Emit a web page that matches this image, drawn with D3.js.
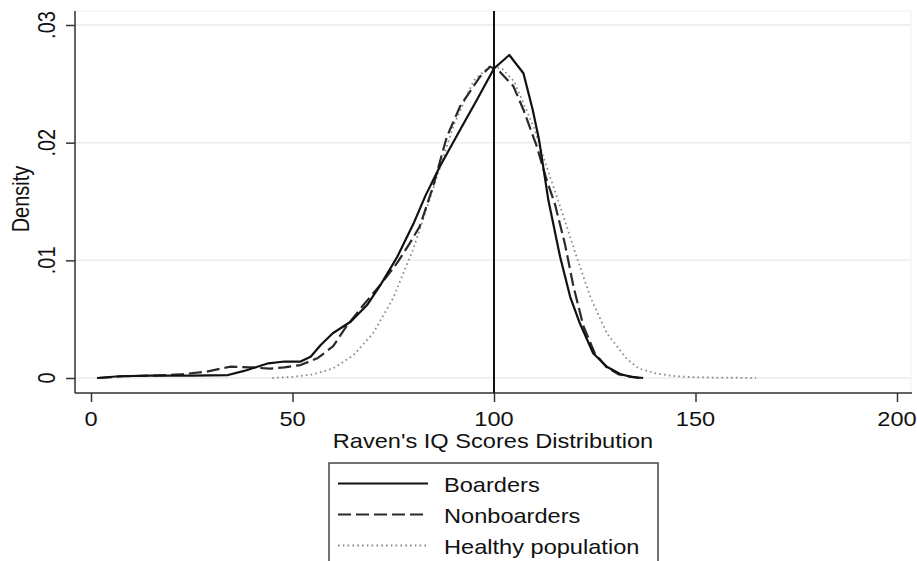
<!DOCTYPE html>
<html>
<head>
<meta charset="utf-8">
<script src="https://cdn.jsdelivr.net/npm/d3@7"></script>
<style>
  html, body { margin: 0; padding: 0; background: #fff; }
  svg { display: block; }
  text { font-family: "Liberation Sans", Arial, sans-serif; fill: #111; }
</style>
</head>
<body>
<svg id="chart" width="917" height="561"></svg>
<script>
// ---- data ----
const xTicks = [0, 50, 100, 150, 200];
const yTicks = [0, 0.01, 0.02, 0.03];
const yTickLabels = ["0", ".01", ".02", ".03"];
const xTitle = "Raven's IQ Scores Distribution";
const yTitle = "Density";
const seriesNames = ["Boarders", "Nonboarders", "Healthy population"];
const refLine = 100;

const boardersX = [1.5, 7, 15, 25, 34, 38, 44, 48, 52, 54.5, 57, 60, 64.5, 68.5, 72, 76, 80, 83, 86.6, 91.6, 95.7, 100, 103.8, 107.3, 109.6, 111.2, 113.5, 116.4, 118.9, 121.3, 124.6, 128, 131.3, 134, 137];
const boardersY = [0.0000, 0.00015, 0.0002, 0.0002, 0.00025, 0.0006, 0.00125, 0.0014, 0.0014, 0.0018, 0.0028, 0.0038, 0.0048, 0.0062, 0.0080, 0.0103, 0.0131, 0.0155, 0.0180, 0.0211, 0.0236, 0.0263, 0.02745, 0.0259, 0.0228, 0.0202, 0.0151, 0.0103, 0.0069, 0.00465, 0.0021, 0.00096, 0.00034, 0.0001, 0.0000];

const nonboardersX = [2, 8, 15, 22, 28.7, 34.5, 39.5, 44.4, 48, 52, 56.3, 60.1, 63.4, 67.6, 72, 76, 79, 81.6, 84.9, 88.3, 91.6, 96.5, 99, 101.5, 104.8, 107.3, 110.6, 113.1, 115.1, 117.6, 119.7, 122.2, 125, 128, 131, 136];
const nonboardersY = [0.0000, 0.00015, 0.0002, 0.0003, 0.00054, 0.00096, 0.0009, 0.0008, 0.0009, 0.0011, 0.0017, 0.0027, 0.0044, 0.0062, 0.0080, 0.0098, 0.0114, 0.0129, 0.0163, 0.0205, 0.0231, 0.0256, 0.02646, 0.0260, 0.0248, 0.0228, 0.0197, 0.0168, 0.0148, 0.0114, 0.0078, 0.0044, 0.0021, 0.0009, 0.0003, 0.0000];

const healthyX = [45, 50, 55, 60, 65, 70, 75, 80, 85, 90, 95, 99, 102, 105, 110, 113, 116.7, 120.5, 124, 128, 133, 136, 140, 145, 150, 155, 165];
const healthyY = [0.0000, 0.0001, 0.0003, 0.0008, 0.0019, 0.0038, 0.0068, 0.0110, 0.0162, 0.0215, 0.0253, 0.0265, 0.0263, 0.0252, 0.0212, 0.0180, 0.0143, 0.0103, 0.0068, 0.0038, 0.0016, 0.0008, 0.0004, 0.00015, 0.00006, 0.00003, 0.00001];

// ---- layout ----
const svg = d3.select("#chart");
const SX = 1.18; // horizontal stretch of the original picture's text
const pL = 75, pB = 393, pT = 11, pR = 911;
const x = d3.scaleLinear().domain([0, 200]).range([91, 897]);
const y = d3.scaleLinear().domain([0, 0.03]).range([378, 25]);

svg.append("rect").attr("width", 917).attr("height", 561).attr("fill", "#fff");

// faint plot region border
svg.append("rect").attr("x", pL).attr("y", pT).attr("width", pR - pL).attr("height", pB - pT)
  .attr("fill", "none").attr("stroke", "#eef3f3").attr("stroke-width", 1.2);

// gridlines
svg.append("g").selectAll("line").data(yTicks).join("line")
  .attr("x1", pL).attr("x2", pR)
  .attr("y1", d => y(d)).attr("y2", d => y(d))
  .attr("stroke", "#e6eeee").attr("stroke-width", 1.5);

// axes
const xAxis = d3.axisBottom(x).tickValues(xTicks).tickSize(9).tickFormat(() => "");
const gx = svg.append("g").attr("transform", `translate(0,${pB})`).call(xAxis);
gx.select(".domain").remove();
gx.selectAll(".tick line").attr("stroke", "#333").attr("stroke-width", 1.5);
svg.append("line").attr("x1", pL).attr("x2", pR + 1).attr("y1", pB).attr("y2", pB)
  .attr("stroke", "#333").attr("stroke-width", 1.5);

const yAxis = d3.axisLeft(y).tickValues(yTicks).tickSize(9).tickFormat(() => "");
const gy = svg.append("g").attr("transform", `translate(${pL},0)`).call(yAxis);
gy.select(".domain").remove();
gy.selectAll(".tick line").attr("stroke", "#333").attr("stroke-width", 1.5);
svg.append("line").attr("x1", pL).attr("x2", pL).attr("y1", pT).attr("y2", pB)
  .attr("stroke", "#333").attr("stroke-width", 1.5);

// tick labels (stretched text)
svg.append("g").selectAll("text").data(xTicks).join("text")
  .attr("transform", d => `translate(${x(d)},425.5) scale(${SX},1)`)
  .attr("text-anchor", "middle").attr("font-size", 20).text(d => d);

svg.append("g").selectAll("text").data(yTicks).join("text")
  .attr("transform", d => `translate(55,${y(d)}) scale(${SX},1) rotate(-90)`)
  .attr("text-anchor", "middle").attr("font-size", 20).text((d, i) => yTickLabels[i]);

// axis titles
svg.append("text").attr("transform", `translate(493,447.5) scale(${SX},1)`)
  .attr("text-anchor", "middle").attr("font-size", 20).text(xTitle);
svg.append("text").attr("transform", `translate(29,199) scale(${SX},1) rotate(-90)`)
  .attr("text-anchor", "middle").attr("font-size", 20).text(yTitle);

// curves
const styles = [
  { stroke: "#111", width: 2.2, dash: null },
  { stroke: "#2a2a2a", width: 2.2, dash: "13,5" },
  { stroke: "#8a8a8a", width: 1.8, dash: "1.6,3.2" }
];
const seriesX = [boardersX, nonboardersX, healthyX];
const seriesY = [boardersY, nonboardersY, healthyY];
const line = d3.line().x(d => x(d[0])).y(d => y(d[1])).curve(d3.curveLinear);

// draw healthy first so solid lies on top
[2, 1, 0].forEach(i => {
  const pts = seriesX[i].map((v, j) => [v, seriesY[i][j]]);
  svg.append("path").datum(pts).attr("d", line)
    .attr("fill", "none").attr("stroke", styles[i].stroke)
    .attr("stroke-width", styles[i].width)
    .attr("stroke-linejoin", "round")
    .attr("stroke-dasharray", styles[i].dash);
});

// reference line
svg.append("line").attr("x1", x(refLine)).attr("x2", x(refLine)).attr("y1", pT).attr("y2", pB)
  .attr("stroke", "#111").attr("stroke-width", 2);

// legend
svg.append("rect").attr("x", 329).attr("y", 463).attr("width", 329).attr("height", 120)
  .attr("fill", "#fff").attr("stroke", "#444").attr("stroke-width", 1.5);
const rowY = [483.5, 514.5, 545.5];
seriesNames.forEach((name, i) => {
  svg.append("line").attr("x1", 338).attr("x2", 428).attr("y1", rowY[i]).attr("y2", rowY[i])
    .attr("stroke", styles[i].stroke).attr("stroke-width", styles[i].width)
    .attr("stroke-dasharray", styles[i].dash);
  svg.append("text").attr("transform", `translate(444,${rowY[i] + 8}) scale(${SX},1)`)
    .attr("font-size", 20).text(name);
});
</script>
</body>
</html>
